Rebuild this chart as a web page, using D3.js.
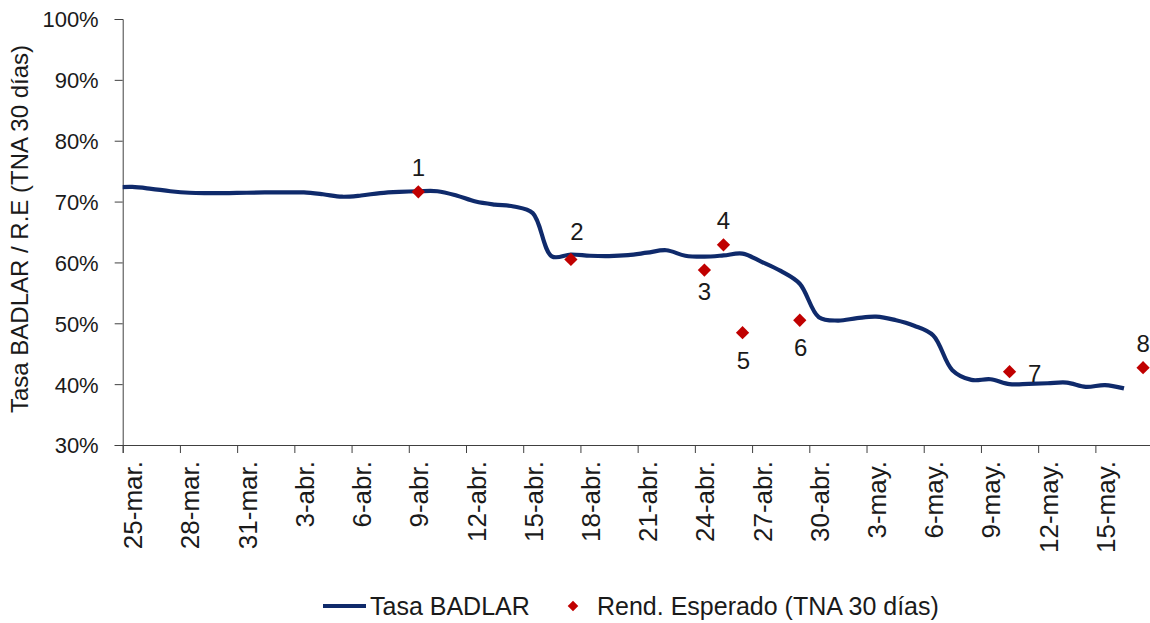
<!DOCTYPE html>
<html>
<head>
<meta charset="utf-8">
<script src="https://cdn.jsdelivr.net/npm/d3@7"></script>
<style>
  body { margin: 0; background: #fff; }
  svg { display: block; font-family: Arial, "Liberation Sans", sans-serif; }
</style>
</head>
<body>
<div id="chart"></div>
<script>
var width = 1150,
    height = 623

// Tasa BADLAR, one reading per day starting 24-mar (%)
var badlarStart = new Date(2020, 2, 24)
var badlarValues = [72.3, 72.4, 72.1, 71.7, 71.45, 71.4, 71.4, 71.45, 71.5, 71.5,
  71.5, 71.2, 70.8, 71.0, 71.4, 71.6, 71.7, 71.7, 71.0, 70.0,
  69.5, 69.2, 68.1, 61.0, 61.3, 61.1, 61.05, 61.2, 61.6, 62.0,
  61.1, 60.95, 61.15, 61.45, 60.1, 58.6, 56.5, 51.0, 50.45, 50.85,
  51.1, 50.55, 49.6, 48.0, 42.3, 40.7, 40.8, 40.0, 40.05, 40.15,
  40.25, 39.55, 39.85, 39.3]

// Rend. Esperado (TNA 30 dias)
var reDates = ["2020-04-09", "2020-04-17", "2020-04-24", "2020-04-25", "2020-04-26", "2020-04-29", "2020-05-10", "2020-05-17"]
var reValues = [71.6, 60.5, 58.75, 62.9, 48.45, 50.5, 42.05, 42.7]
var reLabels = ["1", "2", "3", "4", "5", "6", "7", "8"]
var reLabelPlace = ["above", "above2", "below", "above", "below2", "below2", "right", "above"]

var tickLabels = ["25-mar.", "28-mar.", "31-mar.", "3-abr.", "6-abr.", "9-abr.", "12-abr.", "15-abr.", "18-abr.",
  "21-abr.", "24-abr.", "27-abr.", "30-abr.", "3-may.", "6-may.", "9-may.", "12-may.", "15-may."]
var yTicks = [0.3, 0.4, 0.5, 0.6, 0.7, 0.8, 0.9, 1.0]

var parse = d3.timeParse("%Y-%m-%d")
var noon = function(d) { return d3.timeHour.offset(d, 12) }

var plotLeft = 122.7, plotRight = 1152.6, plotTop = 19, plotBottom = 445

var x = d3.scaleTime()
  .domain([new Date(2020, 2, 25), new Date(2020, 4, 18)])
  .range([plotLeft, plotRight])

var y = d3.scaleLinear()
  .domain([0.3, 1.0])
  .range([plotBottom, plotTop])

var svg = d3.select("#chart")
  .append("svg")
    .attr("width", width)
    .attr("height", height)

svg.append("defs").append("clipPath")
    .attr("id", "plot")
  .append("rect")
    .attr("x", plotLeft)
    .attr("y", 0)
    .attr("width", width - plotLeft)
    .attr("height", height)

// y axis
var yAxis = svg.append("g")
  .attr("transform", "translate(" + plotLeft + ",0)")
  .call(d3.axisLeft(y).tickValues(yTicks).tickFormat(d3.format(".0%")).tickSize(8).tickPadding(16))
yAxis.select(".domain").attr("stroke", "#404040")
yAxis.selectAll(".tick line").attr("stroke", "#404040")
yAxis.selectAll("text")
  .attr("font-size", 22)
  .attr("fill", "#1a1a1a")
  .attr("dy", "0.36em")

// x axis
var tickDates = d3.timeDay.range(new Date(2020, 2, 25), new Date(2020, 4, 18), 3)
var xAxis = svg.append("g")
  .attr("transform", "translate(0," + plotBottom + ")")
  .call(d3.axisBottom(x).tickValues(tickDates).tickFormat(function(d, i) { return tickLabels[i] }).tickSizeOuter(0).tickSize(8))
xAxis.select(".domain").attr("stroke", "#404040")
xAxis.selectAll(".tick line").attr("stroke", "#404040")
xAxis.selectAll("text")
  .attr("font-size", 26)
  .attr("fill", "#1a1a1a")
  .attr("x", 0)
  .attr("y", 0)
  .attr("dy", 0)
  .attr("text-anchor", "end")
  .attr("transform", "translate(19,16) rotate(-90)")

// y axis title
svg.append("text")
  .attr("transform", "translate(28," + ((plotTop + plotBottom) / 2 - 3) + ") rotate(-90)")
  .attr("text-anchor", "middle")
  .attr("font-size", 24)
  .attr("fill", "#1a1a1a")
  .text("Tasa BADLAR / R.E (TNA 30 días)")

// BADLAR line
var badlar = badlarValues.map(function(v, i) {
  return { date: noon(d3.timeDay.offset(badlarStart, i)), value: v / 100 }
})

var line = d3.line()
  .x(function(d) { return x(d.date) })
  .y(function(d) { return y(d.value) })
  .curve(d3.curveCatmullRom)

svg.append("path")
  .datum(badlar)
  .attr("clip-path", "url(#plot)")
  .attr("d", line)
  .attr("fill", "none")
  .attr("stroke", "#0f2a6b")
  .attr("stroke-width", 4.2)
  .attr("stroke-linejoin", "round")

// Rend. Esperado points
var re = reDates.map(function(d, i) {
  return { date: noon(parse(d)), value: reValues[i] / 100, label: reLabels[i], place: reLabelPlace[i] }
})

var diamond = d3.symbol().type(d3.symbolSquare).size(88)

svg.selectAll("mypoints")
  .data(re)
  .enter()
  .append("path")
    .attr("d", diamond)
    .attr("transform", function(d) { return "translate(" + x(d.date) + "," + y(d.value) + ") rotate(45)" })
    .attr("fill", "#c00000")

var offsets = {
  above: [0, -16],
  above2: [6, -19],
  below: [0, 30],
  below2: [1, 36],
  right: [25, 10]
}

svg.selectAll("mylabels")
  .data(re)
  .enter()
  .append("text")
    .attr("x", function(d) { return x(d.date) + offsets[d.place][0] })
    .attr("y", function(d) { return y(d.value) + offsets[d.place][1] })
    .attr("text-anchor", "middle")
    .attr("font-size", 24)
    .attr("fill", "#1a1a1a")
    .text(function(d) { return d.label })

// legend
var legend = svg.append("g")
legend.append("line")
  .attr("x1", 323)
  .attr("x2", 366)
  .attr("y1", 606)
  .attr("y2", 606)
  .attr("stroke", "#0f2a6b")
  .attr("stroke-width", 4.2)
legend.append("text")
  .attr("x", 370)
  .attr("y", 615)
  .attr("font-size", 25)
  .attr("fill", "#1a1a1a")
  .text("Tasa BADLAR")
legend.append("path")
  .attr("d", d3.symbol().type(d3.symbolSquare).size(56))
  .attr("transform", "translate(573,606) rotate(45)")
  .attr("fill", "#c00000")
legend.append("text")
  .attr("x", 597)
  .attr("y", 615)
  .attr("font-size", 25)
  .attr("fill", "#1a1a1a")
  .text("Rend. Esperado (TNA 30 días)")
</script>
</body>
</html>
